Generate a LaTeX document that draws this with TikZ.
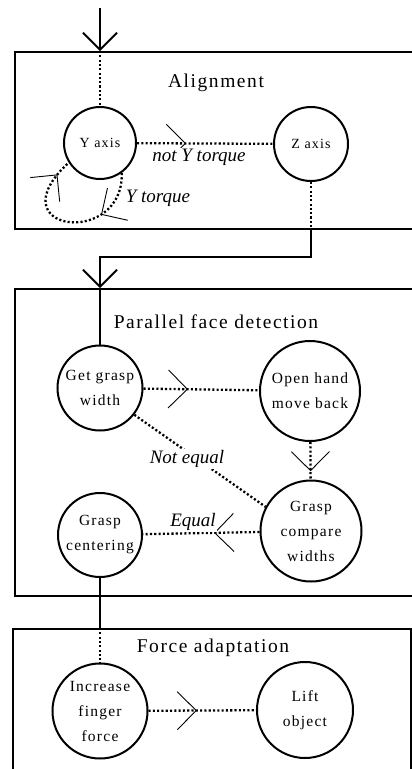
\documentclass[tikz,border=0pt]{standalone}
\usepackage{fontspec}
\setmainfont{Liberation Serif}
\newfontfamily\labelfont[LetterSpace=8]{Liberation Serif}
\usetikzlibrary{arrows.meta,decorations.markings}

\begin{document}
\begin{tikzpicture}[x=1pt,y=-1pt,
  stage/.style={draw, line width=2pt, circle, inner sep=0pt, align=center,
    font=\labelfont\fontsize{15.5}{25}\selectfont},
  panel/.style={draw, line width=2pt, rectangle, anchor=north west, inner sep=0pt},
  title/.style={font=\labelfont\fontsize{19.5}{22}\selectfont},
  flow/.style={line width=2.3pt, dash pattern=on 2.1pt off 2.2pt},
  feed/.style={line width=2pt},
  cond/.style={font=\itshape\fontsize{19}{22}\selectfont, fill=white, inner sep=1pt},
  chev/.style={postaction={decorate, decoration={markings,
    mark=at position #1 with {\arrow{Straight Barb[length=19pt,width=38pt,line width=0.9pt]}}}}},
  entry/.style={-{Straight Barb[length=17pt,width=34pt,line width=1.8pt]}}
]
\useasboundingbox (0,0) rectangle (412,769);
\clip (0,0) rectangle (412,769);

% panels
\node[panel, minimum width=420pt, minimum height=177pt] (align) at (14,51) {};
\node[panel, minimum width=420pt, minimum height=307pt] (par) at (14,288) {};
\node[panel, minimum width=398pt, minimum height=160pt] (force) at (12,628) {};

\node[title] (t1) at (216,83) {Alignment};
\node[title] (t2) at (216,322) {Parallel face detection};
\node[title] (t3) at (213,648) {Force adaptation};

% states
\node[stage, minimum size=72pt, font=\labelfont\fontsize{14}{16}\selectfont] (Y) at (100,143) {Y axis};
\node[stage, minimum size=74pt, font=\labelfont\fontsize{14}{16}\selectfont] (Z) at (311,144) {Z axis};
\node[stage, minimum size=85pt] (G) at (100,388) {Get grasp\\width};
\node[stage, minimum size=100pt] (O) at (310,391) {Open hand\\move back};
\node[stage, minimum size=101pt] (GC) at (311,531) {Grasp\\compare\\widths};
\node[stage, minimum size=84pt] (C) at (100,535) {Grasp\\centering};
\node[stage, minimum size=95pt] (I) at (100,711) {Increase\\finger\\force};
\node[stage, minimum size=96pt] (L) at (305,710) {Lift\\object};

% entry into the alignment stage
\coordinate (in) at (100,8);
\coordinate (ytop) at (Y.north |- align.north);
\draw[feed, entry] (in) -- (ytop);
\draw[flow] (ytop) -- (Y);

% alignment transitions
\draw[flow, chev=0.36] (Y) -- (Z);
\draw[flow, chev=0.3, chev=0.9] (Y.-54) .. controls (124,248) and (-6,232) .. (Y.212);

% hand-over to parallel face detection
\coordinate (zj) at (Z.south |- align.south);
\coordinate (gtop) at (G.north |- par.north);
\draw[flow] (Z) -- (zj);
\draw[feed, entry] (zj) -- ++(0,27) -| (gtop);
\draw[feed] (gtop) -- (G);

% parallel face detection transitions
\draw[flow, chev=0.385] (G) -- (O);
\draw[flow, chev=0.78] (O) -- (GC);
\draw[flow] (G.-38) -- (GC.152);
\draw[flow, chev=0.39] (GC) -- (C);

% hand-over to force adaptation
\coordinate (itop) at (I.north |- force.north);
\draw[feed] (C) -- (itop);
\draw[flow] (itop) -- (I);
\draw[flow, chev=0.45] (I) -- (L);

% transition conditions
\node[cond] (c1) at (199,157) {not Y torque};
\node[cond] (c2) at (158,198) {Y torque};
\node[cond] (c3) at (187,459) {Not equal};
\node[cond] (c4) at (193,522) {Equal};
\end{tikzpicture}
\end{document}
